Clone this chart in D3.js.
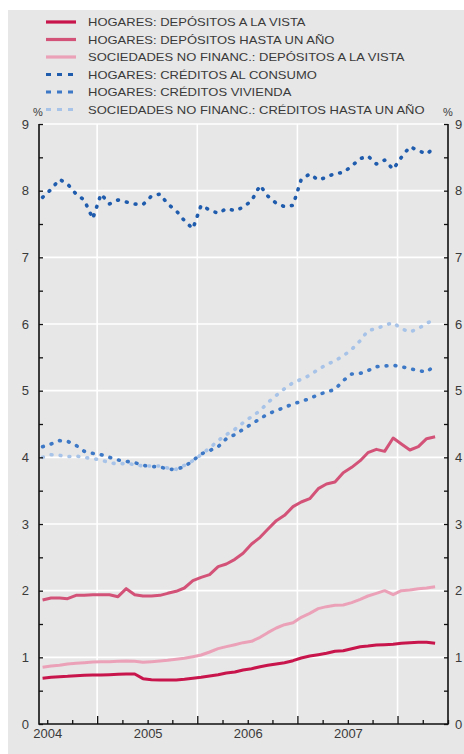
<!DOCTYPE html>
<html>
<head>
<meta charset="utf-8">
<script src="https://cdn.jsdelivr.net/npm/d3@7"></script>
<style>
  body { margin: 0; background: #fff; }
  text { font-family: "Liberation Sans", Arial, sans-serif; fill: #3a3a3a; }
</style>
</head>
<body>
<svg id="chart" width="464" height="754"></svg>
<script>
// monthly observations, Dec 2003 - Nov 2007 (plotted mid-month)
const months = d3.timeMonth.range(new Date(2003, 11, 1), new Date(2007, 11, 1))
    .map(d => d3.timeDay.offset(d, 14));

const hogaresVista = [0.685,0.70,0.71,0.715,0.725,0.73,0.735,0.735,0.74,0.745,0.75,0.75,
    0.68,0.665,0.66,0.66,0.66,0.67,0.685,0.70,0.72,0.74,0.765,0.78,
    0.81,0.83,0.86,0.88,0.90,0.92,0.95,0.99,1.02,1.04,1.06,1.09,
    1.10,1.13,1.16,1.17,1.185,1.19,1.195,1.21,1.22,1.225,1.225,1.21];
const hogaresHastaAnio = [1.86,1.89,1.89,1.88,1.93,1.93,1.94,1.94,1.94,1.91,2.03,1.94,
    1.92,1.92,1.93,1.96,1.99,2.04,2.15,2.20,2.24,2.36,2.40,2.47,
    2.56,2.70,2.80,2.92,3.05,3.13,3.26,3.33,3.38,3.53,3.60,3.63,
    3.77,3.85,3.95,4.07,4.12,4.09,4.29,4.20,4.11,4.16,4.28,4.31];
const sociedadesVista = [0.85,0.87,0.88,0.90,0.91,0.92,0.93,0.935,0.935,0.94,0.945,0.94,
    0.925,0.935,0.945,0.955,0.97,0.985,1.01,1.035,1.08,1.13,1.16,1.19,
    1.22,1.24,1.30,1.37,1.44,1.49,1.52,1.60,1.66,1.73,1.76,1.78,
    1.785,1.82,1.87,1.92,1.96,2.00,1.94,2.00,2.01,2.03,2.04,2.06];
const hogaresConsumo = [7.90,8.02,8.17,8.10,7.95,7.86,7.58,7.95,7.80,7.86,7.83,7.80,
    7.79,7.92,7.95,7.80,7.70,7.55,7.43,7.78,7.71,7.66,7.73,7.70,
    7.75,7.85,8.08,7.92,7.81,7.76,7.78,8.17,8.25,8.16,8.20,8.26,
    8.27,8.37,8.48,8.52,8.40,8.46,8.32,8.50,8.66,8.60,8.55,8.65];
const hogaresVivienda = [4.16,4.20,4.25,4.24,4.18,4.09,4.06,4.04,4.00,3.96,3.94,3.92,
    3.88,3.86,3.86,3.82,3.82,3.86,3.95,4.05,4.10,4.16,4.28,4.34,
    4.42,4.50,4.58,4.65,4.70,4.75,4.80,4.84,4.88,4.94,4.98,5.02,
    5.15,5.25,5.26,5.30,5.36,5.37,5.38,5.36,5.33,5.30,5.28,5.38];
const sociedadesCredito = [4.00,4.04,4.03,4.01,4.02,4.00,3.98,3.96,3.92,3.90,3.91,3.89,
    3.87,3.87,3.87,3.84,3.82,3.88,3.95,4.04,4.14,4.25,4.34,4.42,
    4.52,4.61,4.70,4.82,4.93,5.03,5.12,5.17,5.23,5.32,5.39,5.45,
    5.52,5.62,5.75,5.90,5.93,5.98,6.02,5.93,5.88,5.93,6.01,6.07];

const seriesNames = [
    "HOGARES: DEPÓSITOS A LA VISTA",
    "HOGARES: DEPÓSITOS HASTA UN AÑO",
    "SOCIEDADES NO FINANC.: DEPÓSITOS A LA VISTA",
    "HOGARES: CRÉDITOS AL CONSUMO",
    "HOGARES: CRÉDITOS VIVIENDA",
    "SOCIEDADES NO FINANC.: CRÉDITOS HASTA UN AÑO"
];
const yTicks = d3.range(0, 9.5, 0.5);
const yearLabels = ["2004", "2005", "2006", "2007"];

const series = [
    { name: seriesNames[0], values: hogaresVista, color: "#c8154c", dotted: false },
    { name: seriesNames[1], values: hogaresHastaAnio, color: "#d35378", dotted: false },
    { name: seriesNames[2], values: sociedadesVista, color: "#eba2b8", dotted: false },
    { name: seriesNames[3], values: hogaresConsumo, color: "#1f5cae", dotted: true },
    { name: seriesNames[4], values: hogaresVivienda, color: "#3c78c6", dotted: true },
    { name: seriesNames[5], values: sociedadesCredito, color: "#a7c3e8", dotted: true }
];

const plot = { left: 39, right: 448, top: 124, bottom: 724 };

const svg = d3.select("#chart");

svg.append("rect")
    .attr("x", 8).attr("y", 10)
    .attr("width", 456).attr("height", 744)
    .attr("fill", "#e7e7e7");

const x = d3.scaleTime()
    .domain([new Date(2003, 11, 2), new Date(2008, 0, 1)])
    .range([plot.left, plot.right]);
const y = d3.scaleLinear().domain([0, 9]).range([plot.bottom, plot.top]);

// grid
const grid = svg.append("g").attr("class", "grid");
grid.selectAll("line.h")
    .data(d3.range(1, 10))
    .join("line")
    .attr("class", "h")
    .attr("x1", plot.left).attr("x2", plot.right)
    .attr("y1", d => y(d)).attr("y2", d => y(d))
    .attr("stroke", "#fff").attr("stroke-width", 1.6);
const midYears = d3.timeMonth.range(new Date(2004, 0, 1), new Date(2008, 0, 1))
    .filter(d => d.getMonth() === 6);
grid.selectAll("line.v")
    .data(midYears)
    .join("line")
    .attr("class", "v")
    .attr("x1", d => x(d)).attr("x2", d => x(d))
    .attr("y1", plot.top).attr("y2", plot.bottom)
    .attr("stroke", "#fff").attr("stroke-width", 1.6);

// series
const line = d3.line()
    .x((d, i) => x(months[i]))
    .y(d => y(d));

svg.append("g").selectAll("path")
    .data(series)
    .join("path")
    .attr("d", d => line(d.values))
    .attr("fill", "none")
    .attr("stroke", d => d.color)
    .attr("stroke-width", d => d.dotted ? 3.6 : 3)
    .attr("stroke-linecap", d => d.dotted ? "round" : "butt")
    .attr("stroke-linejoin", "round")
    .attr("stroke-dasharray", d => d.dotted ? "0.8,8.2" : null);

// axes
const yLeft = d3.axisLeft(y)
    .tickValues(yTicks)
    .tickSize(-4)
    .tickPadding(10)
    .tickFormat(d => Number.isInteger(d) ? d : "");
const yRight = d3.axisRight(y)
    .tickValues(yTicks)
    .tickSize(-4)
    .tickPadding(7)
    .tickFormat(d => Number.isInteger(d) ? d : "");

const styleAxis = g => {
    g.select(".domain").remove();
    g.selectAll(".tick line").attr("stroke", "#111").attr("stroke-width", 1.3);
    g.selectAll(".tick text").attr("font-size", 13).attr("fill", "#444");
};

svg.append("g")
    .attr("transform", `translate(${plot.left},0)`)
    .call(yLeft).call(styleAxis);
svg.append("g")
    .attr("transform", `translate(${plot.right},0)`)
    .call(yRight).call(styleAxis);

const xAxis = d3.axisBottom(x)
    .ticks(d3.timeMonth.every(3))
    .tickSize(-4)
    .tickPadding(5)
    .tickFormat(d => d.getMonth() === 0 ? yearLabels[d.getFullYear() - 2004] : "");
const gx = svg.append("g")
    .attr("transform", `translate(0,${plot.bottom})`)
    .call(xAxis).call(styleAxis);
gx.selectAll(".tick line")
    .attr("y2", d => d.getMonth() === 6 ? -8 : -4);

// frame: left, bottom, right
svg.append("path")
    .attr("d", `M${plot.left},${plot.top}V${plot.bottom}H${plot.right}V${plot.top}`)
    .attr("fill", "none")
    .attr("stroke", "#111")
    .attr("stroke-width", 1.6);

// unit labels
svg.append("text").attr("x", 38).attr("y", 116)
    .attr("text-anchor", "middle").attr("font-size", 11).attr("fill", "#444").text("%");
svg.append("text").attr("x", 448).attr("y", 116)
    .attr("text-anchor", "middle").attr("font-size", 11).attr("fill", "#444").text("%");

// legend
const legend = svg.append("g").attr("class", "legend");
const rows = legend.selectAll("g")
    .data(series)
    .join("g")
    .attr("transform", (d, i) => `translate(0,${22 + i * 17.5})`);
rows.append("line")
    .attr("x1", 46).attr("x2", 76)
    .attr("stroke", d => d.color)
    .attr("stroke-width", d => d.dotted ? 3.2 : 3.2)
    .attr("stroke-dasharray", d => d.dotted ? "5,6" : null);
rows.append("text")
    .attr("transform", "translate(88,4) scale(1.13,1)")
    .attr("font-size", 11.5)
    .attr("fill", "#333")
    .text(d => d.name);
</script>
</body>
</html>
